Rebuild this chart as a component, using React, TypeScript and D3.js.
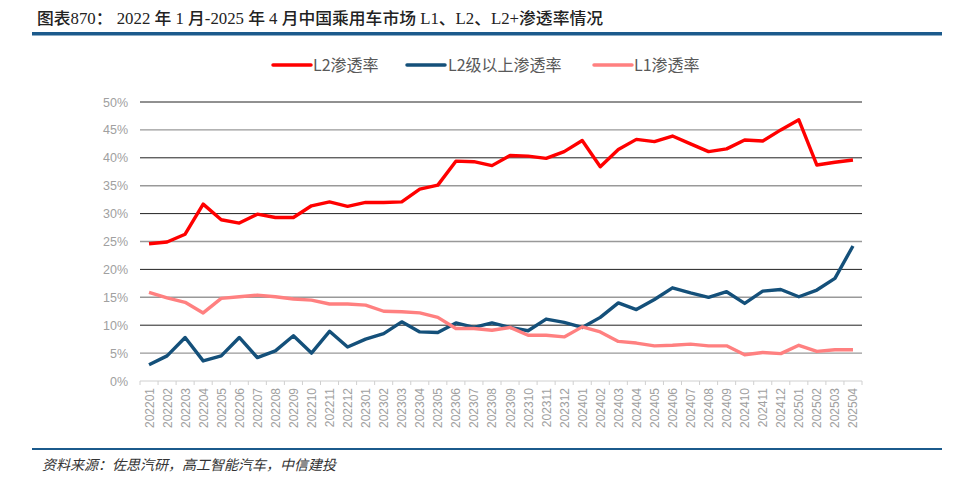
import React from "react";
import * as d3 from "d3";

const months: string[] = [
  "202201","202202","202203","202204","202205","202206","202207","202208","202209","202210","202211","202212",
  "202301","202302","202303","202304","202305","202306","202307","202308","202309","202310","202311","202312",
  "202401","202402","202403","202404","202405","202406","202407","202408","202409","202410","202411","202412",
  "202501","202502","202503","202504",
];

const l2: number[] = [
  24.6, 24.9, 26.3, 31.7, 28.9, 28.3, 29.9, 29.3, 29.3, 31.4, 32.1, 31.3,
  32.0, 32.0, 32.1, 34.4, 35.1, 39.4, 39.3, 38.6, 40.4, 40.3, 39.9, 41.1,
  43.1, 38.4, 41.5, 43.3, 42.9, 43.9, 42.5, 41.1, 41.6, 43.2, 43.0, 45.0,
  46.8, 38.7, 39.2, 39.6,
];

const l2plus: number[] = [
  2.9, 4.5, 7.8, 3.6, 4.5, 7.8, 4.2, 5.4, 8.1, 5.0, 8.9, 6.1,
  7.5, 8.5, 10.6, 8.8, 8.7, 10.4, 9.6, 10.4, 9.6, 9.0, 11.1, 10.5,
  9.6, 11.4, 14.0, 12.8, 14.6, 16.7, 15.8, 15.0, 16.0, 13.9, 16.1, 16.4,
  15.1, 16.3, 18.4, 24.2,
];

const l1: number[] = [
  15.9, 14.9, 14.1, 12.2, 14.8, 15.1, 15.4, 15.1, 14.7, 14.5, 13.8, 13.8,
  13.6, 12.5, 12.4, 12.2, 11.4, 9.4, 9.4, 9.1, 9.6, 8.2, 8.2, 7.9,
  9.7, 8.8, 7.1, 6.8, 6.3, 6.4, 6.6, 6.3, 6.3, 4.7, 5.1, 4.9,
  6.4, 5.3, 5.6, 5.6,
];

const yTicks: number[] = [0, 5, 10, 15, 20, 25, 30, 35, 40, 45, 50];

const seriesNames: string[] = ["L2渗透率", "L2级以上渗透率", "L1渗透率"];
const seriesColors: string[] = ["#FF0000", "#14507A", "#FF8080"];

const W = 960;
const H = 485;
const plotLeft = 140;
const plotRight = 862;
const plotTop = 102;
const plotBottom = 381;

export default function App() {
  const x = d3.scaleBand<string>().domain(months).range([plotLeft, plotRight]);
  const y = d3.scaleLinear().domain([0, 50]).range([plotBottom, plotTop]);
  const cx = (m: string) => (x(m) as number) + x.bandwidth() / 2;

  const data = [l2, l2plus, l1];
  const line = d3
    .line<number>()
    .x((_, i) => cx(months[i]))
    .y((v) => y(v));

  const legendItems = [
    { x0: 273, tx: 313 },
    { x0: 407, tx: 448 },
    { x0: 594, tx: 634 },
  ];

  const font = "'Microsoft YaHei', 'Noto Sans CJK SC', Arial, sans-serif";
  const serifFont = "'Times New Roman', 'Liberation Serif', 'Noto Sans CJK SC', serif";

  return (
    <svg width={W} height={H} style={{ display: "block", position: "absolute", left: 0, top: 0 }}>
      <rect x={0} y={0} width={W} height={H} fill="#fff" />
      {/* Title */}
      <text x={37} y={24} fontSize={16} fill="#222" fontFamily={serifFont} textLength={566} lengthAdjust="spacingAndGlyphs" style={{ fontWeight: 500 }}>
        图表870：  2022 年 1 月-2025 年 4 月中国乘用车市场 L1、L2、L2+渗透率情况
      </text>
      <rect x={32} y={32} width={910} height={3.5} fill="#1B5A8C" />

      {/* Legend */}
      {legendItems.map((it, i) => (
        <g key={i}>
          <line x1={it.x0} x2={it.x0 + 38} y1={65} y2={65} stroke={seriesColors[i]} strokeWidth={3.5} strokeLinecap="round" />
          <text x={it.tx} y={71} fontSize={16} fill="#595959" fontFamily={font}>
            {seriesNames[i]}
          </text>
        </g>
      ))}

      {/* Grid lines */}
      {yTicks.map((t) =>
        t === 0 ? null : (
          <line
            key={t}
            x1={plotLeft}
            x2={plotRight}
            y1={y(t)}
            y2={y(t)}
            stroke={t % 10 === 0 ? "#222" : "#999"}
            strokeWidth={t % 10 === 0 ? 1 : 1.4}
          />
        )
      )}
      {/* Bottom axis */}
      <line x1={plotLeft} x2={plotRight} y1={plotBottom} y2={plotBottom} stroke="#D0D0D0" strokeWidth={1} />
      {months.concat(["end"]).map((m, i) => {
        const xx = plotLeft + i * x.step();
        return <line key={i} x1={xx} x2={xx} y1={plotBottom} y2={plotBottom + 4} stroke="#D0D0D0" strokeWidth={1} />;
      })}

      {/* Y tick labels */}
      {yTicks.map((t) => (
        <text key={t} x={128} y={y(t) + 4.5} fontSize={12.5} textAnchor="end" fill="#A0A0A0" fontFamily="Arial, 'Liberation Sans', sans-serif">
          {t}%
        </text>
      ))}

      {/* X tick labels */}
      {months.map((m) => (
        <text
          key={m}
          transform={`translate(${cx(m) + 4.5},${plotBottom + 7}) rotate(-90)`}
          fontSize={12}
          textAnchor="end"
          fill="#A0A0A0"
          fontFamily="Arial, 'Liberation Sans', sans-serif"
        >
          {m}
        </text>
      ))}

      {/* Lines */}
      {data.map((d, i) => (
        <path key={i} d={line(d) || ""} fill="none" stroke={seriesColors[i]} strokeWidth={3.4} strokeLinejoin="round" />
      ))}

      {/* Footer */}
      <rect x={32} y={448} width={910} height={2} fill="#1B5A8C" />
      <text x={42} y={470} fontSize={14} fill="#333" fontStyle="italic" fontFamily={serifFont}>
        资料来源：佐思汽研，高工智能汽车，中信建投
      </text>
    </svg>
  );
}
